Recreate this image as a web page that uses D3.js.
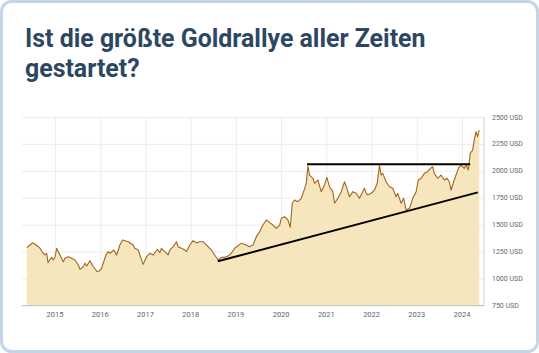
<!DOCTYPE html>
<html lang="de">
<head>
<meta charset="UTF-8">
<script src="https://d3js.org/d3.v7.min.js"></script>
<style>
  html, body { margin: 0; padding: 0; background: #fff; }
  svg { display: block; font-family: Roboto, "Noto Sans", sans-serif; }
</style>
</head>
<body>
<svg id="goldChart" width="539" height="353"></svg>
<script>
// Gold price (USD); time as decimal years
const times = [
  2014.375, 2014.448, 2014.507, 2014.558, 2014.632, 2014.669, 2014.728, 2014.779, 2014.816, 2014.845,
  2014.890, 2014.927, 2014.963, 2015.000, 2015.037, 2015.073, 2015.110, 2015.183, 2015.220, 2015.294,
  2015.368, 2015.440, 2015.514, 2015.552, 2015.625, 2015.662, 2015.700, 2015.773, 2015.846, 2015.934,
  2015.978, 2016.030, 2016.066, 2016.126, 2016.177, 2016.214, 2016.302, 2016.362, 2016.435, 2016.494,
  2016.618, 2016.728, 2016.766, 2016.840, 2016.876, 2016.950, 2017.024, 2017.097, 2017.170, 2017.267,
  2017.318, 2017.355, 2017.428, 2017.500, 2017.539, 2017.612, 2017.686, 2017.720, 2017.797, 2017.870,
  2017.907, 2017.980, 2018.053, 2018.128, 2018.200, 2018.274, 2018.384, 2018.459, 2018.530, 2018.605,
  2018.680, 2018.750, 2018.826, 2018.900, 2018.970, 2019.120, 2019.230, 2019.300, 2019.378, 2019.452,
  2019.525, 2019.598, 2019.673, 2019.746, 2019.819, 2019.894, 2019.967, 2020.004, 2020.077, 2020.150,
  2020.203, 2020.247, 2020.298, 2020.370, 2020.446, 2020.497, 2020.556, 2020.592, 2020.629, 2020.702,
  2020.740, 2020.812, 2020.887, 2020.960, 2021.010, 2021.070, 2021.143, 2021.180, 2021.254, 2021.329,
  2021.402, 2021.440, 2021.512, 2021.585, 2021.660, 2021.733, 2021.843, 2021.880, 2021.916, 2021.991,
  2022.064, 2022.124, 2022.175, 2022.212, 2022.247, 2022.322, 2022.395, 2022.468, 2022.543, 2022.578,
  2022.653, 2022.710, 2022.763, 2022.837, 2022.910, 2022.985, 2023.035, 2023.095, 2023.168, 2023.240,
  2023.300, 2023.350, 2023.388, 2023.461, 2023.536, 2023.609, 2023.669, 2023.720, 2023.757, 2023.814,
  2023.868, 2023.918, 2023.978, 2024.050, 2024.088, 2024.139, 2024.183, 2024.234, 2024.270, 2024.310,
  2024.344, 2024.380
];
const prices = [
  1287, 1312, 1333, 1318, 1296, 1281, 1240, 1219, 1235, 1147,
  1179, 1197, 1172, 1203, 1281, 1250, 1219, 1157, 1188, 1203,
  1188, 1172, 1126, 1086, 1110, 1142, 1117, 1166, 1110, 1064,
  1070, 1095, 1142, 1219, 1250, 1235, 1265, 1219, 1312, 1358,
  1342, 1312, 1281, 1265, 1219, 1132, 1203, 1235, 1219, 1272,
  1240, 1281, 1250, 1219, 1265, 1296, 1342, 1296, 1281, 1265,
  1250, 1312, 1352, 1333, 1342, 1342, 1296, 1265, 1219, 1172,
  1197, 1197, 1209, 1235, 1281, 1327, 1312, 1296, 1312, 1389,
  1435, 1497, 1544, 1519, 1497, 1467, 1497, 1559, 1574, 1544,
  1476, 1699, 1729, 1714, 1745, 1807, 1884, 2045, 1961, 1931,
  1884, 1915, 1807, 1869, 1940, 1853, 1807, 1699, 1745, 1807,
  1899, 1853, 1760, 1807, 1792, 1745, 1838, 1792, 1776, 1792,
  1822, 1884, 2054, 1961, 1977, 1899, 1853, 1838, 1760, 1792,
  1699, 1745, 1636, 1652, 1745, 1807, 1915, 1931, 1977, 1992,
  2023, 2038, 1977, 1931, 1961, 1915, 1931, 1899, 1822, 1899,
  1961, 2023, 2054, 2023, 2054, 2008, 2163, 2193, 2286, 2364,
  2317, 2379
];

// Trend lines drawn on the chart: [time, price] endpoints
const resistanceLine = [[2020.574, 2061], [2024.180, 2061]];
const supportLine = [[2018.600, 1160], [2024.350, 1800]];

const yearTicks = [2015, 2016, 2017, 2018, 2019, 2020, 2021, 2022, 2023, 2024];
const priceTicks = [750, 1000, 1250, 1500, 1750, 2000, 2250, 2500];

const titleLines = ["Ist die größte Goldrallye aller Zeiten", "gestartet?"];

const svg = d3.select("svg#goldChart");
const width = +svg.attr("width");
const height = +svg.attr("height");
const plot = { left: 22, right: 484, top: 117, bottom: 305.5 };

// Card frame
svg.append("rect")
  .attr("x", 1.5).attr("y", 1.5)
  .attr("width", width - 3).attr("height", height - 3)
  .attr("rx", 10).attr("ry", 10)
  .attr("fill", "#fff")
  .attr("stroke", "#c3d5e7")
  .attr("stroke-width", 3);

// Title
svg.append("text")
  .attr("x", 25).attr("y", 46.5)
  .attr("fill", "#2d4763")
  .style("font-size", "24.9px")
  .style("font-weight", "bold")
  .selectAll("tspan").data(titleLines)
  .join("tspan")
  .attr("x", 25)
  .attr("dy", (d, i) => i === 0 ? 0 : 30)
  .text(d => d);

// Scales
const x = d3.scaleLinear().domain([2014.27, 2024.486]).range([plot.left, plot.right]);
const y = d3.scaleLinear().domain([750, 2500]).range([plot.bottom, plot.top]);

const data = times.map((t, i) => ({ t: t, p: prices[i] }));

// Gridlines
svg.append("g").attr("class", "y gridlines")
  .attr("transform", `translate(${plot.left},0)`)
  .call(d3.axisLeft(y).tickValues(priceTicks).tickSize(-(plot.right - plot.left)).tickFormat(""))
  .call(g => g.select(".domain").remove())
  .call(g => g.selectAll("line").attr("stroke", "#ededed"));

svg.append("g").attr("class", "x gridlines")
  .attr("transform", `translate(0,${plot.bottom})`)
  .call(d3.axisBottom(x).tickValues(yearTicks).tickSize(-(plot.bottom - plot.top)).tickFormat(""))
  .call(g => g.select(".domain").remove())
  .call(g => g.selectAll("line").attr("stroke", "#ededed"));

// Area + price line
svg.append("path").datum(data)
  .attr("fill", "#f5e6be")
  .attr("d", d3.area().x(d => x(d.t)).y0(y(750)).y1(d => y(d.p)));

svg.append("path").datum(data)
  .attr("fill", "none")
  .attr("stroke", "#a3641f")
  .attr("stroke-width", 1.1)
  .attr("stroke-linejoin", "round")
  .attr("d", d3.line().x(d => x(d.t)).y(d => y(d.p)));

// Trend lines
const trend = d3.line().x(d => x(d[0])).y(d => y(d[1]));
[resistanceLine, supportLine].forEach(l => {
  svg.append("path").datum(l)
    .attr("fill", "none")
    .attr("stroke", "#000")
    .attr("stroke-width", 2)
    .attr("d", trend);
});

// Axes frame lines
svg.append("line")
  .attr("x1", plot.left).attr("x2", plot.right)
  .attr("y1", plot.bottom).attr("y2", plot.bottom)
  .attr("stroke", "#c4c4c4").attr("stroke-width", 1.2);
svg.append("line")
  .attr("x1", plot.right).attr("x2", plot.right)
  .attr("y1", plot.top).attr("y2", plot.bottom)
  .attr("stroke", "#d0d0d0").attr("stroke-width", 1);

// Axis labels
svg.append("g").attr("class", "x axis")
  .selectAll("text").data(yearTicks)
  .join("text")
  .attr("x", d => x(d))
  .attr("y", plot.bottom + 11)
  .attr("text-anchor", "middle")
  .attr("fill", "#666")
  .style("font-size", "7.5px")
  .text(d => d);

svg.append("g").attr("class", "y axis")
  .selectAll("text").data(priceTicks)
  .join("text")
  .attr("x", plot.right + 8)
  .attr("y", d => y(d) + 2.5)
  .attr("fill", "#666")
  .style("font-size", "7px")
  .text(d => d + " USD");
</script>
</body>
</html>
